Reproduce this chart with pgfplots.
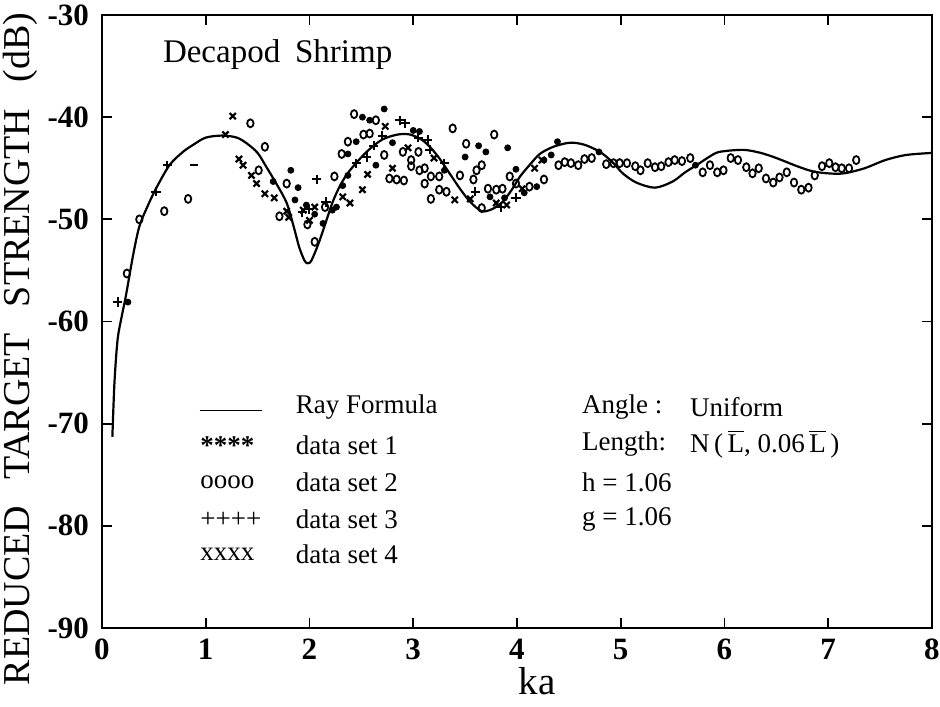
\documentclass[border=0pt]{standalone}
\usepackage{fontspec}
\setmainfont{Liberation Serif}
\usepackage{pgfplots}
\pgfplotsset{compat=1.18}
\begin{document}
\begin{tikzpicture}
\useasboundingbox (-51pt,-39pt) rectangle (419pt,314pt);
\begin{axis}[
  scale only axis, width=415pt, height=306.5pt,
  xmin=0, xmax=8, ymin=-90, ymax=-30,
  xtick={0,1,...,8}, ytick={-90,-80,...,-30},
  xticklabels={0,1,2,3,4,5,6,7,8},
  yticklabels={-90,-80,-70,-60,-50,-40,-30},
  tick align=inside, major tick length=5pt,
  every tick/.style={line width=0.9pt, black},
  axis line style={line width=1.2pt},
  tick label style={font=\fontsize{15.5}{17}\selectfont\bfseries},
  xticklabel style={yshift=-2pt},
  yticklabel style={xshift=-3pt},
  xlabel={ka}, xlabel style={font=\fontsize{19.5}{21}\selectfont, yshift=3pt, xshift=10pt},
  ylabel={REDUCED\hspace{13pt}TARGET\hspace{13pt}STRENGTH\hspace{13pt}(dB)},
  ylabel style={font=\fontsize{19}{21}\selectfont, at={(ticklabel cs:0.455)}, yshift=-2pt},
  clip=false,
]
% Ray formula
\addplot[line width=1.1pt, smooth, tension=0.5] coordinates {
(0.10,-71.3)(0.12,-66)(0.15,-61.8)(0.19,-59.5)(0.23,-57.5)(0.30,-53.5)(0.36,-50.7)
(0.44,-48.7)(0.52,-47.0)(0.65,-44.7)(0.78,-43.4)(0.88,-42.7)(1.00,-42.0)(1.16,-41.8)
(1.30,-42.0)(1.40,-42.6)(1.50,-43.5)(1.58,-44.8)(1.68,-46.5)(1.78,-48.4)(1.85,-50.8)
(1.90,-52.7)(1.95,-54.0)(1.98,-54.3)(2.02,-54.0)(2.10,-52.0)(2.22,-48.4)(2.30,-46.6)
(2.39,-45.2)(2.55,-43.4)(2.70,-42.2)(2.85,-41.7)(2.97,-41.7)(3.08,-42.2)(3.16,-42.9)
(3.25,-44.0)(3.35,-45.5)(3.45,-47.0)(3.55,-48.3)(3.66,-49.2)(3.76,-49.0)(3.86,-48.3)
(3.95,-47.1)(4.03,-45.8)(4.12,-44.7)(4.22,-43.6)(4.35,-42.9)(4.51,-42.5)(4.65,-42.7)
(4.80,-43.4)(4.92,-44.4)(5.02,-45.5)(5.15,-46.4)(5.33,-46.9)(5.50,-46.3)(5.62,-45.4)
(5.73,-44.7)(5.85,-43.9)(5.95,-43.4)(6.18,-43.2)(6.35,-43.5)(6.50,-44.0)(6.70,-44.8)
(6.85,-45.3)(7.00,-45.5)(7.15,-45.5)(7.35,-45.0)(7.55,-44.2)(7.75,-43.7)(8.00,-43.5)
};
% data set 1
\addplot[only marks, mark=*, mark size=1.5pt] coordinates {
(0.25,-58.1)(1.65,-46.3)(1.82,-45.2)(1.86,-48.1)(1.89,-46.9)(1.97,-48.6)(2.13,-50.4)
(2.22,-49.1)(2.26,-48.8)(2.32,-46.7)(2.37,-45.7)(2.37,-43.6)(2.45,-42.4)(2.51,-40.0)
(2.58,-40.3)(2.64,-44.7)(2.72,-39.2)(3.00,-41.3)(3.06,-41.4)(3.50,-43.9)(3.63,-42.8)
(3.70,-43.4)(3.91,-43.0)(3.74,-47.8)(3.88,-47.9)(3.99,-45.1)(4.07,-47.4)(4.19,-46.8)
(4.26,-44.2)(4.33,-43.7)(4.39,-42.4)(4.79,-43.4)(5.72,-44.7)(2.05,-49.5)(2.80,-42.5)(3.30,-45.2)
};
% data set 2
\addplot[only marks, mark=o, mark size=2pt, mark options={xscale=0.8, line width=0.9pt}] coordinates {
(0.24,-55.3)(0.36,-50.0)(0.60,-49.2)(0.83,-48.0)(1.43,-40.6)(1.57,-42.9)(1.51,-45.2)
(1.78,-46.5)(1.71,-49.7)(1.98,-50.5)(2.05,-52.2)(2.15,-48.8)(2.24,-45.8)(2.31,-43.6)
(2.37,-42.4)(2.43,-39.7)(2.52,-41.7)(2.58,-41.6)(2.64,-40.3)(2.72,-43.7)(2.77,-46.0)
(2.84,-46.1)(2.91,-46.2)(2.90,-43.4)(2.98,-44.2)(2.98,-44.8)(3.05,-43.4)(3.06,-45.2)
(3.11,-45.0)(3.17,-45.8)(3.11,-46.5)(3.25,-45.8)(3.25,-47.1)(3.32,-47.3)(3.17,-48.0)
(3.38,-41.1)(3.45,-45.7)(3.51,-42.6)(3.58,-46.1)(3.61,-45.2)(3.66,-44.7)(3.66,-48.9)
(3.72,-47.0)(3.78,-41.7)(3.80,-47.1)(3.86,-47.0)(3.93,-45.8)(3.99,-46.5)(4.12,-46.8)
(4.26,-46.1)(4.40,-44.7)(4.46,-44.4)(4.52,-44.5)(4.59,-44.7)(4.65,-44.1)(4.72,-44.0)
(4.86,-44.6)(4.93,-44.5)(4.99,-44.5)(5.06,-44.5)(5.14,-44.8)(5.19,-45.2)(5.26,-44.5)
(5.33,-44.9)(5.39,-44.8)(5.46,-44.4)(5.52,-44.2)(5.59,-44.3)(5.67,-44.0)(5.79,-45.4)
(5.86,-44.7)(5.93,-45.4)(5.99,-45.2)(6.06,-44.0)(6.13,-44.2)(6.21,-44.9)(6.27,-45.5)
(6.33,-45.0)(6.40,-46.0)(6.47,-46.4)(6.53,-45.9)(6.60,-45.4)(6.67,-46.4)(6.74,-47.1)
(6.81,-46.9)(6.87,-45.7)(6.94,-44.8)(7.01,-44.5)(7.07,-44.9)(7.13,-45.0)(7.20,-45.0)(7.27,-44.2)
};
% data set 3
\addplot[only marks, mark=+, mark size=2.3pt, mark options={line width=1pt}] coordinates {
(0.15,-58.1)(0.52,-47.3)(0.63,-44.7)(2.07,-46.1)(2.16,-48.3)(2.55,-43.9)(2.87,-40.3)
(2.92,-40.6)(3.14,-42.2)(3.16,-43.2)(3.60,-47.3)(3.99,-47.9)(2.70,-41.8)(3.05,-42.0)
(2.45,-44.5)(3.85,-48.8)(1.93,-49.3)(2.00,-49.0)(3.30,-44.5)(2.62,-42.8)
};
% data set 4
\addplot[only marks, mark=x, mark size=2.2pt, mark options={line width=1.1pt}] coordinates {
(1.19,-41.7)(1.26,-39.9)(1.32,-44.1)(1.36,-44.7)(1.44,-45.7)(1.49,-46.5)(1.57,-47.5)
(1.66,-47.9)(1.78,-49.2)(1.80,-49.8)(1.94,-49.1)(2.00,-50.1)(2.05,-48.8)(2.32,-47.8)
(2.39,-48.4)(2.51,-47.1)(2.56,-45.6)(2.73,-40.9)(2.80,-45.0)(3.40,-48.1)(3.80,-48.4)
(4.17,-45.0)(4.24,-44.2)(2.95,-43.0)(3.20,-44.0)(3.55,-48.0)(3.90,-48.6)(4.05,-47.0)
};
% lone dash
\addplot[only marks, mark=-, mark size=2pt, mark options={line width=1pt}] coordinates {(0.89,-44.7)};
% texts
\node[anchor=west, font=\fontsize{16.5}{18}\selectfont] at (axis cs:0.52,-33.9) {Decapod\hspace{0.45em}Shrimp};
\begin{scope}[every node/.style={anchor=west, font=\fontsize{13.5}{15}\selectfont}]
\draw[line width=0.8pt] (axis cs:0.94,-68.7) -- (axis cs:1.54,-68.7);
\node at (axis cs:1.80,-68.4) {Ray Formula};
\node at (axis cs:0.88,-72.1) {\bfseries ****};
\node at (axis cs:1.80,-72.1) {data set 1};
\node at (axis cs:0.88,-75.7) {oooo};
\node at (axis cs:1.80,-75.7) {data set 2};
\node at (axis cs:0.88,-79.4) {++++};
\node at (axis cs:1.80,-79.4) {data set 3};
\node at (axis cs:0.88,-82.8) {xxxx};
\node at (axis cs:1.80,-82.8) {data set 4};
\node at (axis cs:4.56,-68.4) {Angle :};
\node at (axis cs:5.60,-68.4) {Uniform};
\node at (axis cs:4.56,-72.0) {Length:};
\node at (axis cs:5.60,-72.0) {N\,(\,$\overline{\hbox{L}}$, 0.06\,$\overline{\hbox{L}}$\,)};
\node at (axis cs:4.56,-75.7) {h = 1.06};
\node at (axis cs:4.56,-79.4) {g = 1.06};
\end{scope}
\end{axis}
\end{tikzpicture}
\end{document}
